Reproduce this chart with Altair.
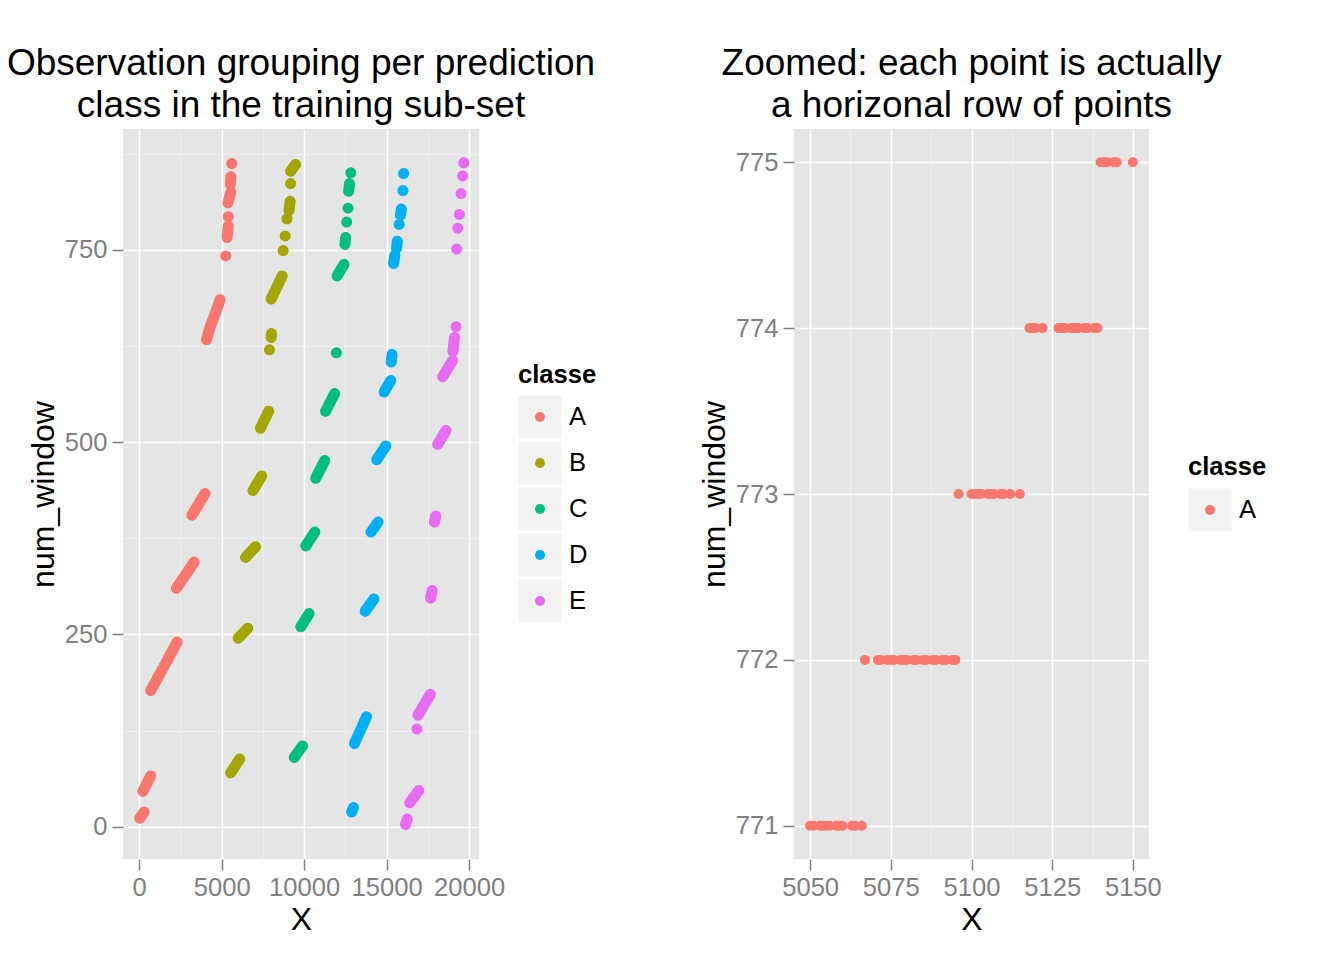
import pandas as pd
import altair as alt

FONT = "Liberation Sans"

classes = ["A", "B", "C", "D", "E"]
class_colors = ["#F8766D", "#A3A500", "#00BF7D", "#00B0F6", "#E76BF3"]

# Left panel: each run is a streak of observations, given as (X, num_window)
# points read off the picture.
runs_a = [
    [(40, 11), (300, 19)],
    [(230, 46), (700, 66)],
    [(700, 177), (2300, 240)],
    [(2260, 310), (3330, 344)],
    [(3200, 405), (3990, 433)],
    [(4080, 633), (4300, 650), (4550, 663), (4900, 685)],
    [(5250, 742)],
    [(5330, 766), (5400, 781)],
    [(5400, 793)],
    [(5380, 811), (5560, 825)],
    [(5530, 835), (5560, 845)],
    [(5612, 862)],
]
runs_b = [
    [(5550, 70), (6100, 88)],
    [(6000, 245), (6580, 258)],
    [(6450, 350), (7050, 364)],
    [(6900, 437), (7430, 456)],
    [(7350, 518), (7850, 540)],
    [(7900, 620)],
    [(8000, 636), (8020, 641)],
    [(8000, 686), (8670, 716)],
    [(8730, 749)],
    [(8850, 768)],
    [(8960, 790)],
    [(9080, 801), (9150, 813)],
    [(9180, 836)],
    [(9180, 852), (9480, 861)],
]
runs_c = [
    [(9400, 90), (9900, 105)],
    [(9800, 260), (10300, 277)],
    [(10100, 365), (10650, 383)],
    [(10700, 453), (11250, 476)],
    [(11300, 540), (11850, 563)],
    [(11955, 616)],
    [(12000, 716), (12420, 731)],
    [(12470, 757), (12520, 766)],
    [(12580, 786)],
    [(12660, 804)],
    [(12700, 826), (12750, 836)],
    [(12827, 850)],
]
runs_d = [
    [(12880, 19), (12990, 25)],
    [(13050, 108), (13780, 143)],
    [(13700, 280), (14230, 296)],
    [(14050, 383), (14480, 396)],
    [(14400, 477), (14950, 495)],
    [(14850, 565), (15250, 580)],
    [(15280, 604), (15330, 614)],
    [(15420, 732), (15500, 743)],
    [(15600, 752), (15650, 761)],
    [(15760, 783)],
    [(15840, 795), (15890, 803)],
    [(15990, 827)],
    [(16030, 849)],
]
runs_e = [
    [(16150, 3), (16250, 10)],
    [(16400, 31), (16950, 47)],
    [(16840, 127)],
    [(16900, 145), (17650, 172)],
    [(17660, 297), (17760, 307)],
    [(17900, 396), (17980, 404)],
    [(18100, 497), (18600, 515)],
    [(18400, 585), (19000, 606)],
    [(19020, 618), (19120, 636)],
    [(19210, 650)],
    [(19250, 751)],
    [(19312, 778)],
    [(19413, 796)],
    [(19514, 823)],
    [(19616, 846)],
    [(19677, 863)],
]

# Right panel: X values of the class A rows in windows 771-775.
zoom_windows = [771, 772, 773, 774, 775]
zoom_x_771 = [5050, 5051, 5053, 5054, 5055, 5056, 5058, 5059, 5060, 5063,
              5064, 5066]
zoom_x_772 = [5067, 5071, 5072, 5074, 5075, 5076, 5078, 5079, 5080, 5082,
              5083, 5085, 5086, 5088, 5089, 5091, 5092, 5094, 5095]
zoom_x_773 = [5096, 5100, 5101, 5102, 5103, 5105, 5106, 5107, 5109, 5110,
              5112, 5115]
zoom_x_774 = [5118, 5119, 5120, 5122, 5127, 5128, 5129, 5131, 5132, 5133,
              5135, 5136, 5138, 5139]
zoom_x_775 = [5140, 5141, 5142, 5144, 5145, 5150]

# Axis breaks (major + minor grid lines).
left_x_ticks = [0, 2500, 5000, 7500, 10000, 12500, 15000, 17500, 20000]
left_y_ticks = [0, 125, 250, 375, 500, 625, 750, 875]
right_x_ticks = [5050, 5062.5, 5075, 5087.5, 5100, 5112.5, 5125, 5137.5, 5150]
right_y_ticks = [771, 771.5, 772, 772.5, 773, 773.5, 774, 774.5, 775]

color_enc = alt.Color("classe:N",
                      scale=alt.Scale(domain=classes, range=class_colors),
                      legend=None)


def runs_frame(all_runs):
    rows = []
    for cls, runs in zip(classes, all_runs):
        for i, run in enumerate(runs):
            for j, (x, w) in enumerate(run):
                rows.append({"classe": cls, "run": f"{cls}{i}", "step": j,
                             "X": x, "num_window": w})
    return pd.DataFrame(rows)


def zoom_frame():
    rows = []
    for w, xs in zip(zoom_windows, [zoom_x_771, zoom_x_772, zoom_x_773,
                                    zoom_x_774, zoom_x_775]):
        for x in xs:
            rows.append({"classe": "A", "X": x, "num_window": w})
    return pd.DataFrame(rows)


def panel_axis(ticks, major_test, title):
    return alt.Axis(
        values=ticks, title=title, format="d",
        labelExpr=f"({major_test}) ? datum.label : ''",
        grid=True,
        gridColor={"condition": {"test": major_test, "value": "#FFFFFF"},
                   "value": "#F2F2F2"},
        gridWidth={"condition": {"test": major_test, "value": 1.6},
                   "value": 0.8},
        tickOpacity={"condition": {"test": major_test, "value": 1},
                     "value": 0},
        domain=False, ticks=True, tickColor="#7F7F7F", tickSize=11,
        tickWidth=1.5, labelColor="#7F7F7F", labelFontSize=25.6,
        labelFont=FONT, labelPadding=5, labelOverlap=False, labelFlush=False,
        titleFont=FONT, titleFontSize=32, titleFontWeight="normal",
        titleColor="#000000", titlePadding=4)


def scatter_panel(df, x_domain, y_domain, x_ticks, x_test, y_ticks, y_test,
                  title, width, with_runs):
    base = alt.Chart(df).encode(
        x=alt.X("X:Q", scale=alt.Scale(domain=x_domain, nice=False, zero=False),
                axis=panel_axis(x_ticks, x_test, "X")),
        y=alt.Y("num_window:Q",
                scale=alt.Scale(domain=y_domain, nice=False, zero=False),
                axis=panel_axis(y_ticks, y_test, "num_window")),
        color=color_enc)

    dots = base.mark_circle(size=100, opacity=1)
    layers = [dots]
    if with_runs:
        # Dense streaks of overlapping points:
        lines = base.mark_line(strokeWidth=11, strokeCap="round",
                               strokeJoin="round").encode(
            detail="run:N", order="step:Q")
        layers = [lines, dots]

    return alt.layer(*layers).properties(
        width=width, height=730,
        view=alt.ViewBackground(fill="#E5E5E5"),
        title=alt.TitleParams(text=title, font=FONT, fontSize=37,
                              fontWeight="normal", color="#000000",
                              anchor="middle", lineHeight=42, offset=4))


def legend_panel(shown, key_ys, title_y, width):
    data = pd.DataFrame({"classe": shown})
    if len(shown) > 1:
        y = alt.Y("classe:N", axis=None,
                  scale=alt.Scale(type="point", domain=shown, range=key_ys,
                                  padding=0))
    else:
        y = alt.value(key_ys[0])
    keys = alt.Chart(data).mark_square(size=1849, color="#F2F2F2",
                                       opacity=1).encode(x=alt.value(41), y=y)
    dots = alt.Chart(data).mark_circle(size=100, opacity=1).encode(
        x=alt.value(41), y=y, color=color_enc)
    labels = alt.Chart(data).mark_text(
        align="left", baseline="middle", font=FONT, fontSize=25.6,
        color="#000000").encode(x=alt.value(70), y=y, text="classe:N")
    head = alt.Chart(pd.DataFrame({"t": ["classe"]})).mark_text(
        align="left", baseline="middle", font=FONT, fontSize=25.6,
        fontWeight="bold", color="#000000").encode(
        x=alt.value(19), y=alt.value(title_y), text="t:N")
    return alt.layer(keys, dots, labels, head).properties(width=width,
                                                          height=730)


def main():
    left = scatter_panel(
        runs_frame([runs_a, runs_b, runs_c, runs_d, runs_e]),
        [-980, 20600], [-42, 907],
        left_x_ticks, "datum.value % 5000 === 0",
        left_y_ticks, "datum.value % 250 === 0",
        ["Observation grouping per prediction",
         "class in the training sub-set"],
        356, True)
    right = scatter_panel(
        zoom_frame(), [5045, 5155], [770.8, 775.2],
        right_x_ticks, "(datum.value - 5050) % 25 === 0",
        right_y_ticks, "datum.value % 1 === 0",
        ["Zoomed: each point is actually", "a horizonal row of points"],
        355, False)

    left_legend = legend_panel(classes, [288, 472], 246, 275)
    right_legend = legend_panel(["A"], [381], 338, 110)

    chart = (alt.hconcat(left, left_legend, right, right_legend,
                         spacing=20, bounds="flush")
             .properties(padding={"left": -2, "top": 37, "right": 5,
                                  "bottom": 5})
             .configure(font=FONT)
             .configure_view(strokeWidth=0))

    chart.save("out.html", embed_options={"renderer": "svg", "actions": False})


if __name__ == "__main__":
    main()
